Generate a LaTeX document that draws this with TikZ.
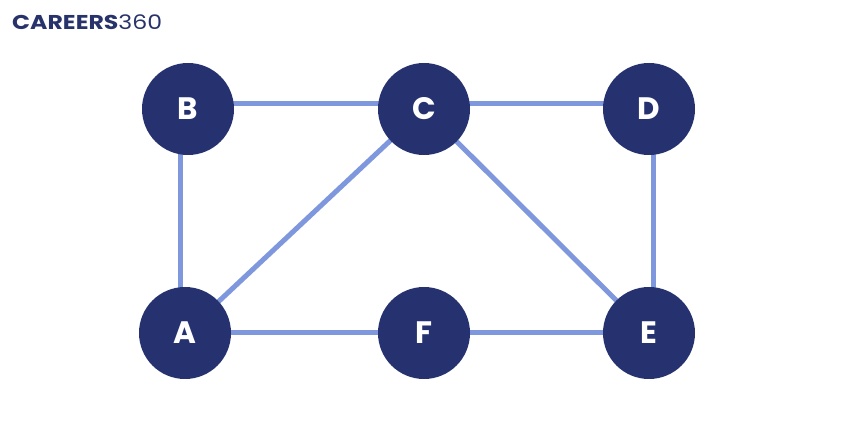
\documentclass[tikz,border=0pt]{standalone}
\usepackage{fontspec}
\usetikzlibrary{backgrounds}
\setmainfont{Poppins}
\newfontfamily\logofont{Poppins}
\definecolor{navy}{HTML}{25326F}
\definecolor{edgeblue}{HTML}{7F97DD}
\definecolor{logonavy}{HTML}{27336A}
\begin{document}
\begin{tikzpicture}[x=1pt,y=-1pt,
  vertex/.style={circle,fill=navy,minimum size=92pt,inner sep=0pt,text=white,font=\fontsize{31}{31}\selectfont\bfseries},
  link/.style={draw=edgeblue,line width=5pt}]
\useasboundingbox (0,0) rectangle (860,430);
\node[anchor=west,inner sep=0pt,text=logonavy,xscale=1.18] (logo) at (12,22) {\logofont\fontsize{20}{20}\selectfont\bfseries CAREERS\mdseries 360};
\node[vertex] (B) at (188,109) {B};
\node[vertex] (C) at (424,109) {C};
\node[vertex] (D) at (649,109) {D};
\node[vertex] (A) at (185,333) {A};
\node[vertex] (F) at (424,333) {F};
\node[vertex] (E) at (649,333) {E};
\begin{scope}[on background layer]
\fill[white] (0,0) rectangle (860,430);
\draw[link] ([yshift=5pt]B.center) -- ([yshift=5pt]C.center);
\draw[link] ([yshift=5pt]C.center) -- ([yshift=5pt]D.center);
\draw[link] ([xshift=-8pt]B.center) -- ([xshift=-5pt]A.center);
\draw[link] ([xshift=4pt]D.center) -- ([xshift=4pt]E.center);
\draw[link] (A.center) -- (F.center);
\draw[link] (F.center) -- (E.center);
\draw[link] (A.center) -- (C.center);
\draw[link] (C.center) -- (E.center);
\end{scope}
\end{tikzpicture}
\end{document}
